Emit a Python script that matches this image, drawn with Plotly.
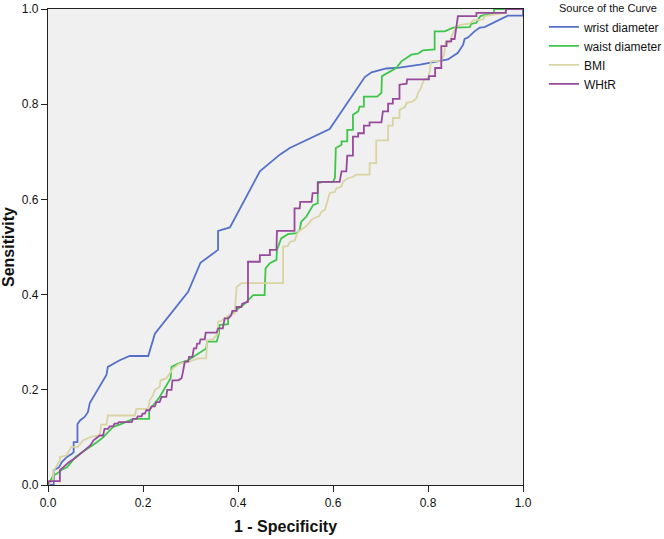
import plotly.graph_objects as go

# ROC curves (x = 1 - specificity, y = sensitivity)
wrist_x = [0, 0.012, 0.012, 0.023, 0.029, 0.040, 0.051, 0.054, 0.054, 0.062, 0.062, 0.068, 0.077, 0.084, 0.088,
           0.109, 0.123, 0.126, 0.151, 0.172, 0.211, 0.225, 0.239, 0.263, 0.281, 0.295, 0.321, 0.358, 0.358,
           0.383, 0.446, 0.488, 0.509, 0.593, 0.667, 0.681, 0.712, 0.740, 0.783, 0.842, 0.863, 0.874, 0.877,
           0.884, 0.898, 0.909, 0.919, 0.944, 0.968, 1.0, 1.0]
wrist_y = [0, 0, 0.031, 0.037, 0.048, 0.059, 0.066, 0.069, 0.090, 0.090, 0.128, 0.136, 0.143, 0.153, 0.172,
           0.209, 0.231, 0.248, 0.262, 0.271, 0.271, 0.318, 0.336, 0.367, 0.388, 0.406, 0.467, 0.494, 0.534,
           0.541, 0.659, 0.694, 0.708, 0.748, 0.857, 0.867, 0.875, 0.877, 0.883, 0.894, 0.908, 0.925, 0.937,
           0.940, 0.953, 0.961, 0.962, 0.975, 0.986, 0.986, 1.0]

waist_x = [0, 0.005, 0.011, 0.019, 0.029, 0.040, 0.047, 0.058, 0.068, 0.079, 0.089, 0.103, 0.116, 0.123, 0.137,
           0.151, 0.179, 0.213, 0.213, 0.235, 0.258, 0.260, 0.274, 0.295, 0.312, 0.333, 0.335, 0.355, 0.360,
           0.361, 0.379, 0.379, 0.386, 0.411, 0.432, 0.456, 0.458, 0.467, 0.481, 0.482, 0.491, 0.505, 0.523,
           0.530, 0.533, 0.544, 0.558, 0.568, 0.568, 0.600, 0.604, 0.606, 0.618, 0.618, 0.630, 0.630, 0.642,
           0.642, 0.653, 0.656, 0.665, 0.665, 0.693, 0.702, 0.703, 0.719, 0.733, 0.744, 0.765, 0.779, 0.789,
           0.814, 0.814, 0.835, 0.853, 0.888, 0.891, 0.902, 0.910, 0.939, 0.939, 1.0]
waist_y = [0, 0.010, 0.020, 0.024, 0.032, 0.037, 0.045, 0.059, 0.066, 0.073, 0.080, 0.090, 0.100, 0.108, 0.122,
           0.127, 0.139, 0.139, 0.157, 0.185, 0.224, 0.248, 0.255, 0.262, 0.273, 0.287, 0.301, 0.301, 0.318,
           0.336, 0.338, 0.353, 0.360, 0.378, 0.399, 0.399, 0.455, 0.466, 0.473, 0.494, 0.518, 0.527, 0.529,
           0.536, 0.553, 0.564, 0.588, 0.592, 0.637, 0.637, 0.645, 0.708, 0.715, 0.722, 0.722, 0.746, 0.746,
           0.778, 0.785, 0.795, 0.795, 0.816, 0.816, 0.824, 0.859, 0.869, 0.876, 0.890, 0.904, 0.906, 0.913,
           0.915, 0.953, 0.953, 0.961, 0.962, 0.969, 0.971, 0.985, 0.992, 1.0, 1.0]

bmi_x = [0, 0.010, 0.012, 0.025, 0.025, 0.039, 0.049, 0.063, 0.074, 0.091, 0.109, 0.112, 0.123, 0.126, 0.183,
         0.186, 0.211, 0.214, 0.221, 0.225, 0.235, 0.237, 0.249, 0.263, 0.277, 0.298, 0.305, 0.316, 0.333,
         0.335, 0.347, 0.358, 0.358, 0.365, 0.386, 0.393, 0.397, 0.407, 0.495, 0.495, 0.505, 0.509, 0.519,
         0.526, 0.537, 0.544, 0.555, 0.561, 0.571, 0.576, 0.583, 0.593, 0.604, 0.607, 0.618, 0.621, 0.632,
         0.642, 0.649, 0.677, 0.677, 0.691, 0.691, 0.716, 0.716, 0.726, 0.726, 0.740, 0.740, 0.751, 0.755,
         0.768, 0.776, 0.779, 0.784, 0.789, 0.792, 0.800, 0.804, 0.806, 0.828, 0.834, 0.837, 0.847, 0.851,
         0.860, 0.870, 0.888, 0.895, 0.916, 0.919, 0.961, 0.966, 1.0]
bmi_y = [0, 0.010, 0.030, 0.052, 0.059, 0.062, 0.080, 0.080, 0.094, 0.101, 0.105, 0.127, 0.127, 0.146, 0.146,
         0.160, 0.160, 0.178, 0.188, 0.200, 0.206, 0.220, 0.224, 0.245, 0.255, 0.259, 0.262, 0.266, 0.266,
         0.304, 0.306, 0.318, 0.343, 0.345, 0.360, 0.360, 0.416, 0.424, 0.424, 0.501, 0.502, 0.511, 0.513,
         0.532, 0.539, 0.544, 0.557, 0.561, 0.565, 0.574, 0.578, 0.613, 0.616, 0.623, 0.627, 0.637, 0.645,
         0.647, 0.652, 0.652, 0.676, 0.676, 0.724, 0.724, 0.755, 0.755, 0.771, 0.771, 0.788, 0.794, 0.803,
         0.806, 0.813, 0.824, 0.832, 0.845, 0.852, 0.855, 0.870, 0.890, 0.891, 0.905, 0.929, 0.930, 0.946,
         0.964, 0.967, 0.969, 0.976, 0.978, 0.985, 0.992, 1.0, 1.0]

whtr_x = [0, 0.002, 0.025, 0.025, 0.033, 0.044, 0.058, 0.068, 0.079, 0.089, 0.096, 0.109, 0.116, 0.119, 0.126,
          0.130, 0.137, 0.140, 0.147, 0.149, 0.176, 0.179, 0.186, 0.189, 0.197, 0.199, 0.204, 0.207, 0.214,
          0.218, 0.225, 0.228, 0.235, 0.239, 0.249, 0.251, 0.260, 0.262, 0.274, 0.281, 0.284, 0.288, 0.295,
          0.297, 0.304, 0.307, 0.312, 0.314, 0.319, 0.321, 0.330, 0.332, 0.355, 0.358, 0.368, 0.372, 0.380,
          0.386, 0.388, 0.397, 0.397, 0.407, 0.409, 0.421, 0.421, 0.446, 0.446, 0.467, 0.467, 0.481, 0.482,
          0.519, 0.519, 0.530, 0.531, 0.555, 0.557, 0.568, 0.568, 0.580, 0.614, 0.618, 0.628, 0.630, 0.642,
          0.642, 0.653, 0.653, 0.665, 0.665, 0.677, 0.677, 0.702, 0.705, 0.716, 0.716, 0.726, 0.726, 0.740,
          0.740, 0.755, 0.756, 0.802, 0.802, 0.815, 0.815, 0.828, 0.828, 0.839, 0.839, 0.849, 0.849, 0.856,
          0.863, 0.902, 0.902, 0.964, 0.964, 1.0]
whtr_y = [0, 0.008, 0.008, 0.031, 0.038, 0.048, 0.057, 0.066, 0.076, 0.083, 0.094, 0.104, 0.104, 0.118, 0.118,
          0.123, 0.123, 0.129, 0.129, 0.132, 0.132, 0.139, 0.139, 0.144, 0.144, 0.150, 0.150, 0.157, 0.157,
          0.165, 0.165, 0.174, 0.174, 0.185, 0.185, 0.200, 0.200, 0.220, 0.220, 0.224, 0.237, 0.259, 0.259,
          0.269, 0.269, 0.287, 0.287, 0.297, 0.297, 0.306, 0.306, 0.320, 0.320, 0.329, 0.329, 0.350, 0.350,
          0.357, 0.366, 0.366, 0.374, 0.374, 0.381, 0.385, 0.469, 0.469, 0.483, 0.483, 0.494, 0.494, 0.534,
          0.534, 0.581, 0.581, 0.595, 0.595, 0.613, 0.613, 0.635, 0.637, 0.637, 0.659, 0.659, 0.692, 0.692,
          0.732, 0.732, 0.739, 0.739, 0.755, 0.755, 0.762, 0.762, 0.785, 0.785, 0.801, 0.801, 0.811, 0.811,
          0.841, 0.843, 0.852, 0.852, 0.859, 0.859, 0.876, 0.876, 0.922, 0.922, 0.932, 0.932, 0.937, 0.937,
          0.985, 0.985, 0.992, 0.992, 1.0, 1.0]

names = ['wrist diameter', 'waist diameter', 'BMI', 'WHtR']
colors = ['#5470c8', '#3fc54a', '#d9d4a4', '#974a9b']
curves = [(wrist_x, wrist_y), (waist_x, waist_y), (bmi_x, bmi_y), (whtr_x, whtr_y)]

fig = go.Figure()
for nm, col, (cx, cy) in zip(names, colors, curves):
    fig.add_trace(go.Scatter(x=cx, y=cy, mode='lines', name=nm,
                             line=dict(color=col, width=1.8)))

axis_style = dict(range=[0, 1], tickvals=[0, 0.2, 0.4, 0.6, 0.8, 1.0],
                  ticktext=['0.0', '0.2', '0.4', '0.6', '0.8', '1.0'],
                  showgrid=False, zeroline=False, showline=True, mirror=True,
                  linecolor='#222', linewidth=1.2, ticks='outside', ticklen=6,
                  tickcolor='#222', tickfont=dict(size=12, color='#111'),
                  automargin=False)

fig.update_xaxes(**axis_style,
                 title=dict(text='<b>1 - Specificity</b>', font=dict(size=16, color='#111'), standoff=12))
fig.update_yaxes(**axis_style,
                 title=dict(text='<b>Sensitivity</b>', font=dict(size=16, color='#111'), standoff=6))

fig.add_annotation(text='Source of the Curve', xref='paper', yref='paper',
                   x=1.072, y=1.003, xanchor='left', yanchor='middle', showarrow=False,
                   font=dict(size=11, color='#111'))

fig.update_layout(
    width=664, height=539,
    margin=dict(l=48, r=141, t=9, b=54, autoexpand=False),
    paper_bgcolor='white', plot_bgcolor='#f0f0f0',
    font=dict(family='Liberation Sans, Arial, sans-serif'),
    legend=dict(x=1.044, y=0.993, xanchor='left', yanchor='top',
                font=dict(size=12, color='#111'), tracegroupgap=0,
                bgcolor='rgba(0,0,0,0)'),
)

# drop the browser's default 8px page margin so the figure sits at the window corner
fig.write_html("out.html", config={'displayModeBar': False},
               post_script="document.body.style.margin='0';")
